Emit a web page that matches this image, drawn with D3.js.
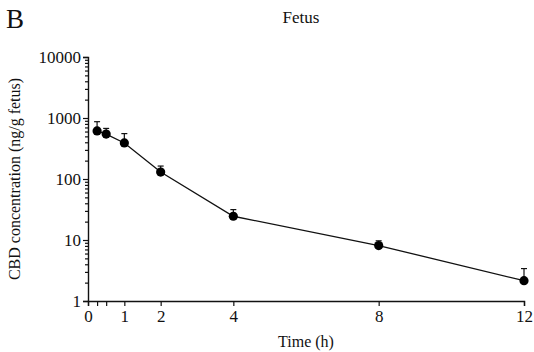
<!DOCTYPE html>
<html>
<head>
<meta charset="utf-8">
<script src="https://cdn.jsdelivr.net/npm/d3@7"></script>
<style>
	body { margin: 0; background: #fff; }
</style>
</head>
<body>
<svg id="chart" width="534" height="352"></svg>
<script>
// CBD in fetus, mean with upward SD bar
var times = [0.25, 0.5, 1, 2, 4, 8, 12];
var means = [615, 545, 390, 130, 24.5, 8.1, 2.15];
var sd = [255, 130, 165, 33, 7, 1.6, 1.25];

var xTicks = [0, 0.25, 0.5, 1, 2, 4, 8, 12];
var xLabels = [0, 1, 2, 4, 8, 12];
var yMajor = [1, 10, 100, 1000, 10000];

var FONT = "'Liberation Serif', Tinos, 'Times New Roman', Times, 'DejaVu Serif', serif";

var svg = d3.select('#chart'),
	mLeft = 88, mRight = 524, mTop = 57, mBottom = 301
	;

var x = d3.scaleLinear().domain([0, 12]).range([mLeft, mRight]);
var y = d3.scaleLog().domain([1, 10000]).range([mBottom, mTop]);

var yMinor = [];
yMajor.slice(0, -1).forEach(function (d) {
	for (var k = 2; k < 10; k++) yMinor.push(d * k);
});

// y axis
var gy = svg.append('g').attr('transform', 'translate(' + mLeft + ',0)');
gy.call(d3.axisLeft(y).tickValues(yMajor).tickSize(5).tickPadding(2).tickFormat(d3.format('d')));
svg.append('g').attr('transform', 'translate(' + mLeft + ',0)')
	.call(d3.axisLeft(y).tickValues(yMinor).tickSize(3).tickFormat(''))
	.select('.domain').remove();

// x axis
var gx = svg.append('g').attr('transform', 'translate(0,' + mBottom + ')');
gx.call(d3.axisBottom(x).tickValues(xTicks).tickSize(5).tickPadding(4)
	.tickFormat(function (d) { return xLabels.indexOf(d) >= 0 ? d : ''; }));

svg.selectAll('g').attr('font-family', FONT).attr('font-size', 17);
svg.selectAll('.domain').attr('stroke', '#111').attr('stroke-width', 1.4);
svg.selectAll('.tick line').attr('stroke', '#111').attr('stroke-width', 1.2);
svg.selectAll('.tick text').attr('fill', '#111');
gy.selectAll('.tick text').attr('dy', '0.34em');

// line
var pts = times.map(function (t, i) { return {t: t, m: means[i], s: sd[i]}; });
svg.append('path')
	.datum(pts)
	.attr('fill', 'none')
	.attr('stroke', '#111')
	.attr('stroke-width', 1.3)
	.attr('d', d3.line().x(function (d) { return x(d.t); }).y(function (d) { return y(d.m); }));

// error bars (upper only)
var eb = svg.append('g').attr('stroke', '#111').attr('stroke-width', 1.2);
eb.selectAll('line.v').data(pts).enter().append('line')
	.attr('x1', function (d) { return x(d.t); })
	.attr('x2', function (d) { return x(d.t); })
	.attr('y1', function (d) { return y(d.m); })
	.attr('y2', function (d) { return y(d.m + d.s); });
eb.selectAll('line.c').data(pts).enter().append('line')
	.attr('x1', function (d) { return x(d.t) - 3; })
	.attr('x2', function (d) { return x(d.t) + 3; })
	.attr('y1', function (d) { return y(d.m + d.s); })
	.attr('y2', function (d) { return y(d.m + d.s); });

// points
svg.append('g').selectAll('circle').data(pts).enter().append('circle')
	.attr('cx', function (d) { return x(d.t); })
	.attr('cy', function (d) { return y(d.m); })
	.attr('r', 4.6)
	.attr('fill', '#000');

// labels
function label(px, py, size, txt, anchor) {
	return svg.append('text').attr('x', px).attr('y', py)
		.attr('font-family', FONT).attr('font-size', size)
		.attr('fill', '#111').attr('text-anchor', anchor || 'start').text(txt);
}
label(6, 28, 27, 'B');
label(301, 23, 17, 'Fetus', 'middle');
label((mLeft + mRight) / 2, 347, 16, 'Time (h)', 'middle');
label(0, 0, 16, 'CBD concentration (ng/g fetus)', 'middle')
	.attr('transform', 'translate(20,' + ((mTop + mBottom) / 2) + ') rotate(-90)');
</script>
</body>
</html>
